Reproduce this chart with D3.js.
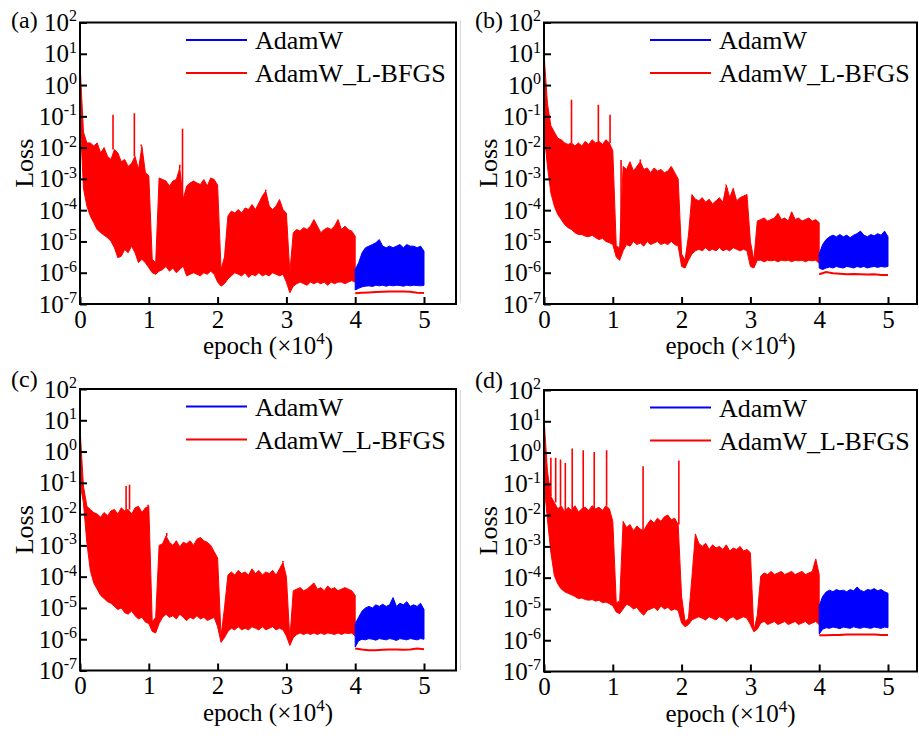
<!DOCTYPE html>
<html>
<head>
<meta charset="utf-8">
<script src="https://cdn.jsdelivr.net/npm/d3@7"></script>
<style>
  body { margin: 0; background: #fff; }
  svg { display: block; font-family: "Liberation Serif", "Times New Roman", serif; }
</style>
</head>
<body>
<div id="chart"></div>
<script>
// epoch grid (x10^4) for the AdamW stage, shared by all panels
var epochs = [0,0.05,0.1,0.15,0.2,0.25,0.3,0.35,0.4,0.45,0.5,0.55,0.6,0.65,0.7,0.75,0.8,0.85,0.9,0.95,
  1,1.05,1.1,1.15,1.2,1.25,1.3,1.35,1.4,1.45,1.5,1.55,1.6,1.65,1.7,1.75,1.8,1.85,1.9,1.95,
  2,2.05,2.1,2.15,2.2,2.25,2.3,2.35,2.4,2.45,2.5,2.55,2.6,2.65,2.7,2.75,2.8,2.85,2.9,2.95,
  3,3.05,3.1,3.15,3.2,3.25,3.3,3.35,3.4,3.45,3.5,3.55,3.6,3.65,3.7,3.75,3.8,3.85,3.9,3.95,4];
var blueEpochs = [4,4.05,4.1,4.15,4.2,4.25,4.3,4.35,4.4,4.45,4.5,4.55,4.6,4.65,4.7,4.75,4.8,4.85,4.9,4.95,5];
var tailEpochs = [4,4.1,4.2,4.3,4.4,4.5,4.6,4.7,4.8,4.9,5];
var xTicks = [0, 1, 2, 3, 4, 5];
var yTicks = [1e-7, 1e-6, 1e-5, 1e-4, 1e-3, 1e-2, 1e-1, 1e0, 1e1, 1e2];

// all loss values below are log10(loss): upper / lower envelope of the noisy curve

// (a)
var hiA = [0.7,-1.5,-1.85,-1.85,-1.95,-1.85,-2.17,-2.0,-2.28,-2.38,
  -2.06,-2.17,-2.45,-2.38,-2.6,-2.5,-2.28,-2.7,-1.96,-2.8,
  -2.9,-5.57,-5.68,-2.97,-3.02,-3.07,-3.23,-3.07,-3.02,-2.65,
  -3.66,-3.23,-3.13,-3.07,-3.13,-3.18,-3.02,-3.23,-2.97,-3.02,
  -3.2,-5.9,-5.5,-4.19,-4.03,-4.09,-3.98,-4.09,-3.93,-3.98,
  -3.82,-3.98,-3.77,-3.55,-3.39,-3.87,-3.98,-3.87,-3.66,-3.98,
  -4.1,-6.0,-4.72,-4.62,-4.67,-4.56,-4.62,-4.51,-4.3,-4.51,
  -4.72,-4.62,-4.56,-4.62,-4.51,-4.3,-4.62,-4.51,-4.62,-4.67,-4.83];
var loA = [-1.0,-3.3,-3.87,-4.19,-4.4,-4.62,-4.72,-4.8,-4.88,-4.99,
  -5.2,-5.52,-5.47,-5.26,-5.36,-5.15,-5.36,-5.68,-5.57,-5.68,
  -5.84,-6.0,-6.05,-5.95,-5.9,-5.8,-5.95,-5.85,-6.0,-5.9,
  -5.79,-6.1,-6.05,-6.0,-6.05,-6.1,-6.0,-6.05,-5.95,-6.05,
  -6.3,-6.43,-6.35,-6.2,-6.1,-6.0,-6.05,-6.1,-6.0,-6.15,
  -6.05,-6.1,-6.0,-6.1,-6.05,-6.1,-6.0,-6.05,-6.1,-6.05,
  -6.3,-6.64,-6.43,-6.35,-6.3,-6.35,-6.4,-6.3,-6.35,-6.3,
  -6.35,-6.3,-6.4,-6.3,-6.35,-6.3,-6.3,-6.35,-6.3,-6.25,-6.3];
var blueHiA = [-5.9,-5.68,-5.36,-5.2,-5.15,-5.1,-5.04,-4.94,-5.15,-5.2,-5.15,-5.2,-5.15,-5.1,-5.2,-5.1,-5.15,-5.15,-5.2,-5.15,-5.31];
var blueLoA = [-6.55,-6.5,-6.45,-6.43,-6.42,-6.44,-6.4,-6.42,-6.4,-6.43,-6.4,-6.42,-6.4,-6.41,-6.43,-6.4,-6.42,-6.4,-6.41,-6.42,-6.4];
var tailA = [-6.66,-6.64,-6.63,-6.62,-6.61,-6.6,-6.6,-6.6,-6.61,-6.64,-6.65];
var spikesA = [[0.48,-0.95],[0.79,-0.9],[0.89,-1.9],[1.49,-1.4],[1.45,-2.55],[2.7,-3.35]];

// (b)
var hiB = [1.02,-0.6,-1.3,-1.5,-1.7,-1.75,-1.85,-1.9,-1.85,-1.95,
  -1.85,-1.95,-1.8,-1.9,-1.75,-1.85,-1.8,-1.9,-1.75,-1.85,
  -2.1,-5.15,-5.2,-2.6,-2.7,-2.45,-2.75,-2.6,-2.45,-2.7,
  -2.65,-2.8,-2.65,-2.75,-2.7,-2.8,-2.75,-2.6,-2.8,-3.0,
  -5.4,-5.6,-4.8,-3.5,-3.65,-3.7,-3.6,-3.75,-3.65,-3.8,
  -3.7,-3.6,-3.75,-3.2,-3.6,-3.3,-3.7,-3.6,-3.55,-3.5,
  -5.0,-5.6,-4.35,-4.3,-4.25,-4.35,-4.3,-4.25,-4.1,-4.3,
  -4.25,-4.35,-4.05,-4.3,-4.25,-4.35,-4.3,-4.25,-4.35,-4.3,-4.4];
var loB = [-1.5,-2.6,-3.45,-3.87,-4.14,-4.3,-4.46,-4.56,-4.62,-4.72,
  -4.78,-4.78,-4.83,-4.85,-4.8,-4.88,-4.94,-4.9,-5.0,-5.04,
  -5.1,-5.5,-5.6,-5.3,-5.1,-5.15,-5.0,-5.1,-5.05,-5.15,
  -5.0,-5.1,-5.05,-5.0,-5.1,-5.05,-5.1,-5.0,-5.1,-5.15,
  -5.8,-5.85,-5.6,-5.4,-5.3,-5.25,-5.3,-5.2,-5.3,-5.25,
  -5.3,-5.2,-5.3,-5.25,-5.3,-5.2,-5.25,-5.3,-5.25,-5.3,
  -5.8,-5.85,-5.6,-5.6,-5.65,-5.6,-5.62,-5.6,-5.65,-5.6,
  -5.62,-5.6,-5.65,-5.6,-5.62,-5.6,-5.65,-5.6,-5.62,-5.6,-5.7];
var blueHiB = [-5.4,-5.1,-4.94,-4.85,-4.8,-4.85,-4.78,-4.85,-4.8,-4.88,-4.8,-4.75,-4.67,-4.8,-4.85,-4.78,-4.82,-4.75,-4.8,-4.67,-4.85];
var blueLoB = [-5.85,-5.9,-5.85,-5.82,-5.85,-5.8,-5.83,-5.85,-5.8,-5.82,-5.85,-5.8,-5.83,-5.8,-5.85,-5.82,-5.8,-5.83,-5.8,-5.82,-5.8];
var tailB = [-6.05,-5.98,-6.02,-6.03,-6.05,-6.04,-6.05,-6.06,-6.05,-6.07,-6.07];
var spikesB = [[0.4,-0.47],[0.79,-0.63],[0.96,-0.95],[1.12,-2.4],[1.4,-2.38],[2.64,-3.18]];

// (c)
var hiC = [0.75,-1.1,-1.75,-1.85,-1.95,-2.0,-2.1,-1.95,-2.05,-1.9,
  -1.85,-2.0,-1.8,-1.9,-1.85,-2.0,-1.8,-1.75,-1.95,-1.8,
  -1.75,-5.45,-5.3,-3.0,-2.95,-2.7,-2.9,-3.0,-2.85,-3.05,
  -2.9,-2.95,-2.85,-3.0,-2.8,-2.75,-2.85,-2.9,-3.0,-3.2,
  -3.4,-5.9,-5.0,-3.95,-3.85,-3.95,-3.8,-3.9,-3.85,-3.95,
  -3.75,-3.9,-3.8,-3.95,-3.85,-3.9,-3.8,-3.95,-3.75,-3.55,
  -4.0,-6.0,-4.45,-4.4,-4.35,-4.45,-4.4,-4.3,-4.2,-4.4,
  -4.35,-4.45,-4.3,-4.4,-4.35,-4.45,-4.4,-4.35,-4.4,-4.45,-4.6];
var loC = [-1.0,-1.64,-2.92,-3.8,-4.2,-4.4,-4.6,-4.7,-4.8,-4.85,
  -4.95,-5.05,-5.0,-5.15,-5.2,-5.1,-5.25,-5.35,-5.3,-5.45,
  -5.5,-5.75,-5.8,-5.5,-5.3,-5.2,-5.3,-5.25,-5.35,-5.2,
  -5.3,-5.4,-5.3,-5.35,-5.25,-5.35,-5.3,-5.4,-5.35,-5.3,
  -5.6,-6.1,-5.95,-5.75,-5.65,-5.7,-5.6,-5.7,-5.65,-5.7,
  -5.6,-5.65,-5.7,-5.6,-5.7,-5.65,-5.6,-5.7,-5.65,-5.7,
  -5.9,-6.2,-5.95,-5.85,-5.8,-5.85,-5.8,-5.85,-5.8,-5.85,
  -5.8,-5.85,-5.8,-5.82,-5.85,-5.8,-5.85,-5.8,-5.82,-5.8,-5.9];
var blueHiC = [-5.5,-5.3,-5.1,-5.0,-4.95,-5.0,-4.9,-4.95,-4.88,-4.95,-4.9,-4.67,-4.95,-4.85,-4.9,-4.8,-4.95,-4.9,-4.95,-4.85,-5.05];
var blueLoC = [-6.25,-6.05,-6.0,-6.02,-5.98,-6.0,-6.03,-5.98,-6.0,-6.02,-5.98,-6.0,-6.04,-5.98,-6.0,-6.02,-5.98,-6.0,-6.02,-5.98,-6.0];
var tailC = [-6.3,-6.33,-6.35,-6.35,-6.34,-6.33,-6.33,-6.34,-6.33,-6.3,-6.32];
var spikesC = [[0.67,-1.1],[0.72,-1.06],[0.99,-1.7],[1.26,-2.6],[2.95,-3.5]];

// (d)
var hiD = [1.1,-0.6,-1.4,-1.6,-1.8,-1.7,-1.9,-1.75,-1.85,-1.7,
  -1.9,-1.8,-1.75,-1.85,-1.7,-1.8,-1.75,-1.85,-1.7,-1.8,
  -2.2,-4.8,-4.75,-2.2,-2.4,-2.3,-2.5,-2.35,-2.45,-2.5,
  -2.3,-2.15,-2.25,-2.1,-2.2,-2.05,-2.0,-2.15,-2.1,-2.3,
  -4.6,-5.4,-5.3,-4.0,-2.6,-2.9,-3.0,-2.9,-3.1,-2.95,
  -3.05,-3.0,-3.1,-2.95,-3.15,-3.05,-3.1,-3.0,-3.15,-3.1,
  -3.2,-5.7,-5.2,-3.95,-3.85,-3.9,-3.8,-3.9,-3.85,-3.8,
  -3.9,-3.85,-3.8,-3.9,-3.85,-3.8,-3.9,-3.85,-3.8,-3.4,-3.9];
var loD = [-1.0,-2.13,-3.2,-3.93,-4.2,-4.36,-4.45,-4.5,-4.55,-4.6,
  -4.67,-4.65,-4.7,-4.72,-4.7,-4.75,-4.72,-4.8,-4.78,-4.83,
  -4.9,-5.1,-5.15,-5.0,-4.85,-4.9,-5.0,-4.95,-5.1,-5.2,
  -5.05,-5.0,-4.95,-5.05,-4.9,-5.0,-4.95,-5.05,-5.0,-5.05,
  -5.45,-5.57,-5.5,-5.35,-5.3,-5.25,-5.3,-5.35,-5.25,-5.3,
  -5.35,-5.25,-5.3,-5.4,-5.3,-5.25,-5.35,-5.3,-5.25,-5.3,
  -5.5,-5.73,-5.65,-5.45,-5.4,-5.5,-5.45,-5.4,-5.5,-5.45,
  -5.4,-5.5,-5.45,-5.4,-5.5,-5.45,-5.4,-5.5,-5.45,-5.4,-5.5];
var blueHiD = [-4.9,-4.6,-4.46,-4.4,-4.45,-4.38,-4.42,-4.4,-4.45,-4.38,-4.42,-4.3,-4.4,-4.45,-4.38,-4.4,-4.35,-4.42,-4.38,-4.45,-4.5];
var blueLoD = [-5.8,-5.65,-5.6,-5.62,-5.58,-5.6,-5.63,-5.58,-5.6,-5.62,-5.57,-5.6,-5.62,-5.58,-5.6,-5.62,-5.58,-5.6,-5.62,-5.58,-5.6];
var tailD = [-5.84,-5.84,-5.83,-5.83,-5.82,-5.82,-5.82,-5.82,-5.82,-5.83,-5.83];
var spikesD = [[0.1,-0.17],[0.17,-0.17],[0.24,-0.22],[0.31,-0.33],[0.41,0.13],[0.57,0.07],[0.73,0.02],[0.91,0.07],[1.44,-0.44],[1.96,-0.25],[1.82,-2.0]];

var RED = "#ff0000", BLUE = "#0000ff";
var H = 281.5;

var panels = [
  { tag: "(a)", tagX: 11, tagY: 28, left: 80, top: 22.5, w: 376, hi: hiA, lo: loA, bHi: blueHiA, bLo: blueLoA, tail: tailA, spikes: spikesA },
  { tag: "(b)", tagX: 475, tagY: 28, left: 544, top: 22.5, w: 373, hi: hiB, lo: loB, bHi: blueHiB, bLo: blueLoB, tail: tailB, spikes: spikesB },
  { tag: "(c)", tagX: 11, tagY: 387, left: 80, top: 389, w: 376, hi: hiC, lo: loC, bHi: blueHiC, bLo: blueLoC, tail: tailC, spikes: spikesC },
  { tag: "(d)", tagX: 475, tagY: 388, left: 544, top: 390, w: 373, hi: hiD, lo: loD, bHi: blueHiD, bLo: blueLoD, tail: tailD, spikes: spikesD }
];

var svg = d3.select("#chart")
  .append("svg")
  .attr("width", 919)
  .attr("height", 738);

// faint seam line between the left and right panels
svg.append("line").attr("x1", 460.5).attr("x2", 460.5).attr("y1", 20).attr("y2", 303)
  .attr("stroke", "#d8d8d8").attr("stroke-width", 1);
svg.append("line").attr("x1", 460.5).attr("x2", 460.5).attr("y1", 390).attr("y2", 670)
  .attr("stroke", "#d8d8d8").attr("stroke-width", 1);

panels.forEach(function(p, k) { drawPanel(p, k); });

function drawPanel(p, k) {
  var g = svg.append("g").attr("transform", "translate(" + p.left + "," + p.top + ")");

  var x = d3.scaleLinear().domain([0, 5]).range([0, 344]);
  var y = d3.scaleLog().domain([1e-7, 1e2]).range([H, 0]);
  var pow = function(v) { return Math.pow(10, v); };

  g.append("clipPath").attr("id", "clip" + k)
    .append("rect").attr("width", p.w).attr("height", H);
  var plot = g.append("g").attr("clip-path", "url(#clip" + k + ")");

  var band = d3.area()
    .x(function(d) { return x(d.e); })
    .y0(function(d) { return y(pow(d.lo)); })
    .y1(function(d) { return y(pow(d.hi)); });

  var redRows = epochs.map(function(e, i) { return { e: e, hi: p.hi[i], lo: p.lo[i] }; });
  var blueRows = blueEpochs.map(function(e, i) { return { e: e, hi: p.bHi[i], lo: p.bLo[i] }; });

  // AdamW stage (shared) in red, AdamW continuation in blue
  plot.append("path").datum(redRows).attr("d", band)
    .attr("fill", RED).attr("stroke", RED).attr("stroke-width", 1).attr("stroke-linejoin", "bevel");
  plot.append("path").datum(blueRows).attr("d", band)
    .attr("fill", BLUE).attr("stroke", BLUE).attr("stroke-width", 1).attr("stroke-linejoin", "bevel");

  // isolated spikes
  plot.selectAll("line.spike")
    .data(p.spikes)
    .enter()
    .append("line")
    .attr("class", "spike")
    .attr("x1", function(d) { return x(d[0]); })
    .attr("x2", function(d) { return x(d[0]); })
    .attr("y1", function(d) { return y(pow(p.hi[d3.bisectCenter(epochs, d[0])])); })
    .attr("y2", function(d) { return y(pow(d[1])); })
    .attr("stroke", RED)
    .attr("stroke-width", 1.6);

  // L-BFGS stage
  var tailLine = d3.line()
    .x(function(d, i) { return x(tailEpochs[i]); })
    .y(function(d) { return y(pow(d)); });
  plot.append("path").datum(p.tail).attr("d", tailLine)
    .attr("fill", "none").attr("stroke", RED).attr("stroke-width", 2);

  // axes with inward ticks
  var gx = g.append("g").attr("transform", "translate(0," + H + ")")
    .call(d3.axisBottom(x).tickValues(xTicks).tickSize(-7).tickPadding(6).tickFormat(d3.format("d")));
  var gy = g.append("g")
    .call(d3.axisLeft(y).tickValues(yTicks).tickSize(-7).tickPadding(3));

  [gx, gy].forEach(function(a) {
    a.attr("font-family", null).attr("font-size", 25);
    a.select(".domain").remove();
    a.selectAll(".tick line").attr("stroke", "#000").attr("stroke-width", 2);
    a.selectAll(".tick text").attr("fill", "#000");
  });

  gy.selectAll(".tick text").text(null).each(function(d) {
    var t = d3.select(this);
    t.append("tspan").text("10");
    t.append("tspan").attr("font-size", 16).attr("dy", "-0.6em").text(Math.round(Math.log10(d)));
  });

  // frame
  g.append("rect").attr("width", p.w).attr("height", H)
    .attr("fill", "none").attr("stroke", "#000").attr("stroke-width", 2);

  // axis title: "epoch (x10" + superscript 4 + ")", laid out piece by piece
  var ty = H + 50;
  var t1 = g.append("text").attr("y", ty).attr("font-size", 25).text("epoch (\u00d710");
  var t2 = g.append("text").attr("y", ty - 10).attr("font-size", 17).text("4");
  var t3 = g.append("text").attr("y", ty).attr("font-size", 25).text(")");
  var w1 = t1.node().getComputedTextLength();
  var w2 = t2.node().getComputedTextLength();
  var w3 = t3.node().getComputedTextLength();
  var x0 = p.w / 2 - (w1 + w2 + w3) / 2;
  t1.attr("x", x0);
  t2.attr("x", x0 + w1);
  t3.attr("x", x0 + w1 + w2);

  g.append("text").attr("transform", "translate(-47," + (H / 2) + ") rotate(-90)")
    .attr("text-anchor", "middle").attr("font-size", 26).text("Loss");

  // legend
  var legend = [{ name: "AdamW", color: BLUE, ly: 17.5 }, { name: "AdamW_L-BFGS", color: RED, ly: 50.5 }];
  var lg = g.selectAll("g.legend").data(legend).enter().append("g").attr("class", "legend");
  lg.append("line").attr("x1", 106).attr("x2", 167)
    .attr("y1", function(d) { return d.ly; }).attr("y2", function(d) { return d.ly; })
    .attr("stroke", function(d) { return d.color; }).attr("stroke-width", 2);
  lg.append("text").attr("x", 175).attr("y", function(d) { return d.ly + 9; })
    .attr("font-size", 26).text(function(d) { return d.name; });

  // panel tag
  svg.append("text").attr("x", p.tagX).attr("y", p.tagY).attr("font-size", 24).text(p.tag);
}
</script>
</body>
</html>
